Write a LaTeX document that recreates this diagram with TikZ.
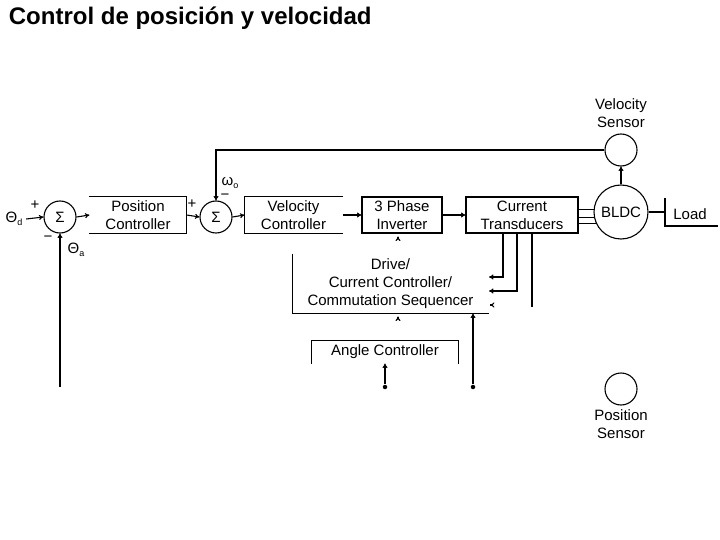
\documentclass[tikz,border=0pt]{standalone}
\usepackage{fontspec}
\setmainfont{Liberation Sans}
\usetikzlibrary{arrows.meta}
\begin{document}
\begin{tikzpicture}[x=1pt,y=-1pt,line width=1.1pt,
  font=\fontsize{15}{18}\selectfont,
  >={To[length=4.5pt,width=5pt]},
  blk/.style={rectangle,inner sep=0pt,minimum height=36pt,align=center},
  sumc/.style={circle,draw,inner sep=0pt,minimum size=32pt},
  dot/.style={circle,fill,inner sep=0pt,minimum size=4.5pt}]
\useasboundingbox (0,0) rectangle (720,540);

\node[anchor=west,font=\fontsize{24}{28}\selectfont\bfseries] (title) at (5,18) {Control de posición y velocidad};

% sumadores y bloques
\node[sumc] (s1) at (60,217) {Σ};
\node[sumc] (s2) at (216,217) {Σ};
\node[blk,minimum width=96pt] (pc) at (138,215) {Position\\Controller};
\node[blk,minimum width=97pt] (vc) at (293.5,215) {Velocity\\Controller};
\node[blk,minimum width=80pt,draw] (inv) at (402,215) {3 Phase\\Inverter};
\node[blk,minimum width=112pt,draw] (ct) at (522,215) {Current\\Transducers};
\node[blk,minimum width=195pt,minimum height=58pt] (drv) at (390.5,284) {Drive/\\Current Controller/\\Commutation Sequencer};
\node[blk,minimum width=146pt,minimum height=22pt] (ang) at (385,352) {Angle Controller};

\draw (pc.north west)--(pc.north east)--(pc.south east)--(pc.south west);
\draw (vc.north east)--(vc.north west)--(vc.south west)--(vc.south east);
\draw (drv.north west)--(drv.south west)--(drv.south east);
\draw (ang.south west)--(ang.north west)--(ang.north east)--(ang.south east);

% motor y sensores
\node[sumc,minimum size=54pt] (bldc) at (621,212) {BLDC};
\node[sumc] (vs) at (621,150) {};
\node[sumc] (ps) at (621,389) {};
\node[align=center] (vsl) at (621,113) {Velocity\\Sensor};
\node[align=center] (psl) at (621,424) {Position\\Sensor};
\node (load) at (690,214) {Load};

% signos
\node (td) at (14,219) {Θ\raisebox{-3pt}{\small d}};
\node (ta) at (76,250) {Θ\raisebox{-3pt}{\small a}};
\node (wo) at (230,183) {ω\raisebox{-3pt}{\small o}};
\node (p1) at (35,205) {+};
\node (m1) at (48,239) {−};
\node (p2) at (192,204) {+};
\node (m2) at (225,197) {−};

\coordinate (fb) at (60,387);
\coordinate (f1) at (489,277);
\coordinate (f2) at (489,291);
\coordinate (ld1) at (665,198);
\coordinate (ld2) at (665,226);
\coordinate (ld3) at (718,226);
\node[dot] (d1) at (385,387) {};
\node[dot] (d2) at (473,387) {};

\draw[->](td.east)--(s1.west);
\draw[->](fb)--(s1.south);
\draw[->](s1.east)--(pc.west);
\draw[->](pc.east)--(s2.west);
\draw[->](vs.west)-|(s2.north);
\draw[->](s2.east)--(vc.west);
\draw[->](vc.east)--(inv.west);
\draw[->](inv.east)--(ct.west);

\draw (ct.east |- bldc.174)--(bldc.174);
\draw (ct.east |- bldc.191)--(bldc.191);
\draw (ct.east |- bldc.204)--(bldc.204);
\draw[->](bldc.north)--(vs.south);
\draw (bldc.east)--(ld1 |- bldc.east);
\draw (ld1)--(ld2)--(ld3);

\draw[->]([xshift=-19pt]ct.south)|-(f1);
\draw[->]([xshift=-5pt]ct.south)|-(f2);
\draw ([xshift=10pt]ct.south)--++(0,73);
\draw[->](490.1,305)--(489.9,305);
\draw[->]([xshift=-4pt,yshift=-3.1pt]inv.south)--([xshift=-4pt,yshift=-3pt]inv.south);
\draw[->]([xshift=7.5pt,yshift=-3.1pt]drv.south)--([xshift=7.5pt,yshift=-3pt]drv.south);
\draw[->](d2)--(d2 |- drv.south);
\draw[->](d1)--(ang.south);
\end{tikzpicture}
\end{document}
